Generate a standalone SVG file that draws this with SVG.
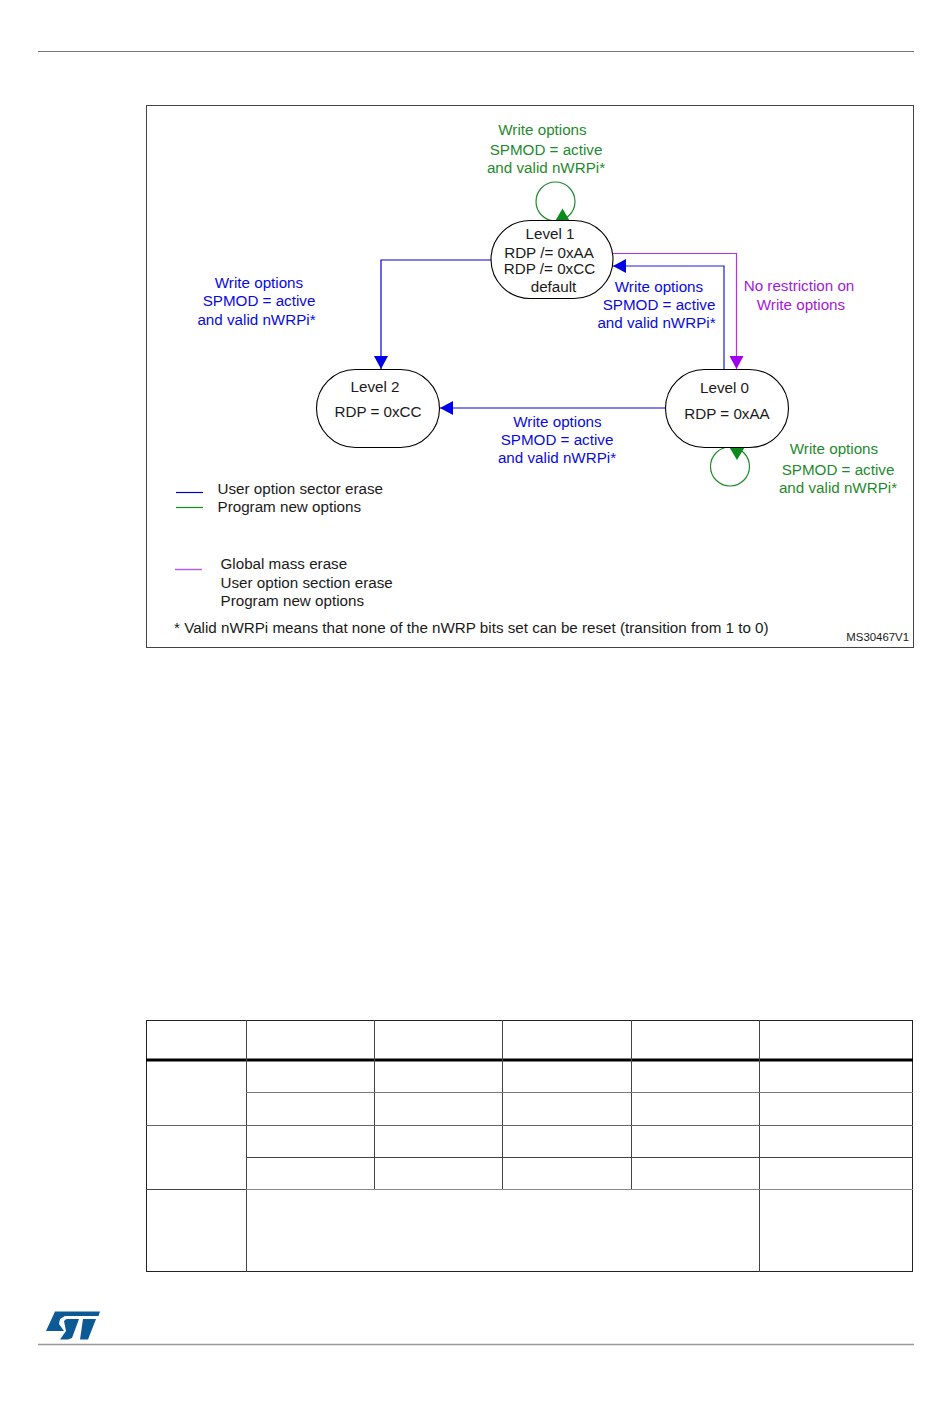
<svg xmlns="http://www.w3.org/2000/svg" width="950" height="1420" viewBox="0 0 950 1420">
<style>
text{font-family:"Liberation Sans",Arial,sans-serif;font-size:15.2px;text-anchor:middle}
.k{fill:#1a1a1a}.b{fill:#0a0ae0}.g{fill:#1f8a2d}.p{fill:#a318e0}
.l{text-anchor:start}
.node{fill:#fff;stroke:#000;stroke-width:1.1}
.c{fill:none;stroke-width:1.2}
.tb line{stroke:#444;stroke-width:1}
</style>
<defs>
<marker id="ab" markerUnits="userSpaceOnUse" markerWidth="14" markerHeight="14" refX="13" refY="7" orient="auto"><path d="M0 0L13 7L0 14Z" fill="#0000e6"/></marker>
<marker id="ap" markerUnits="userSpaceOnUse" markerWidth="14" markerHeight="14" refX="13" refY="7" orient="auto"><path d="M0 0L13 7L0 14Z" fill="#a000f0"/></marker>
</defs>
<line x1="38" y1="51.500" x2="914" y2="51.500" stroke="#777" stroke-width="1"/>
<line x1="38" y1="1344.500" x2="914" y2="1344.500" stroke="#999" stroke-width="1.500"/>
<rect x="146.500" y="105.500" width="767" height="542" fill="#fff" stroke="#444" stroke-width="1"/>
<g id="connectors">
<path class="c" stroke="#0000e6" d="M491 260H381V369" marker-end="url(#ab)"/>
<path class="c" stroke="#b82ee6" d="M613 253.500H736.500V369" marker-end="url(#ap)"/>
<path class="c" stroke="#1a1ae0" d="M724 370V266H613" marker-end="url(#ab)"/>
<path class="c" stroke="#0000e6" d="M666 408H440" marker-end="url(#ab)"/>
<circle class="c" cx="555.500" cy="201.500" r="19.500" stroke="#1f8a2d"/>
<path d="M555.500 220.500L562.500 208.500L569.500 220.500Z" fill="#0d8a1d"/>
<circle class="c" cx="730" cy="466.500" r="19.500" stroke="#1f8a2d"/>
<path d="M729.500 447.500H744.500L737 460Z" fill="#0d8a1d"/>
</g>
<g id="level1"><rect class="node" x="491" y="220.500" width="122" height="78" rx="39" ry="39"/>
<text class="k" x="550" y="239">Level 1</text><text class="k" x="549" y="258">RDP /= 0xAA</text><text class="k" x="549.500" y="274">RDP /= 0xCC</text><text class="k" x="553.500" y="292">default</text></g>
<g id="level2"><rect class="node" x="316.500" y="369.500" width="123" height="78" rx="39" ry="39"/>
<text class="k" x="375" y="392">Level 2</text><text class="k" x="378" y="417">RDP = 0xCC</text></g>
<g id="level0"><rect class="node" x="665.500" y="369.500" width="123" height="78" rx="39" ry="39"/>
<text class="k" x="724.500" y="393">Level 0</text><text class="k" x="727" y="419">RDP = 0xAA</text></g>
<g id="labels">
<text class="g" x="542.500" y="135">Write options</text><text class="g" x="546" y="155">SPMOD = active</text><text class="g" x="546" y="173">and valid nWRPi*</text>
<text class="b" x="259" y="288">Write options</text><text class="b" x="259" y="306">SPMOD = active</text><text class="b" x="256.500" y="325">and valid nWRPi*</text>
<text class="b" x="659" y="292">Write options</text><text class="b" x="659" y="310">SPMOD = active</text><text class="b" x="656.500" y="328">and valid nWRPi*</text>
<text class="p" x="799" y="291">No restriction on</text><text class="p" x="801" y="310">Write options</text>
<text class="b" x="557.500" y="427">Write options</text><text class="b" x="557" y="445">SPMOD = active</text><text class="b" x="557" y="463">and valid nWRPi*</text>
<text class="g" x="834" y="454">Write options</text><text class="g" x="838" y="475">SPMOD = active</text><text class="g" x="838" y="493">and valid nWRPi*</text>
</g>
<g id="legend">
<line x1="176" y1="492.500" x2="203" y2="492.500" stroke="#0000c0" stroke-width="1.200"/>
<line x1="176" y1="507.500" x2="203" y2="507.500" stroke="#128a22" stroke-width="1.200"/>
<line x1="175" y1="569.500" x2="202" y2="569.500" stroke="#b060e8" stroke-width="1.500"/>
<text class="k l" x="217.500" y="494">User option sector erase</text>
<text class="k l" x="217.500" y="512">Program new options</text>
<text class="k l" x="220.500" y="569">Global mass erase</text>
<text class="k l" x="220.500" y="588">User option section erase</text>
<text class="k l" x="220.500" y="606">Program new options</text>
<text class="k l" x="174" y="633">* Valid nWRPi means that none of the nWRP bits set can be reset (transition from 1 to 0)</text>
<text class="k" style="font-size:11.400px;text-anchor:end" x="909" y="641">MS30467V1</text>
</g>
<g class="tb" id="table">
<rect x="146.500" y="1020.500" width="766" height="251" fill="none" stroke="#222"/>
<line x1="146" y1="1060" x2="913" y2="1060" style="stroke:#000;stroke-width:3"/>
<line x1="246.500" y1="1020" x2="246.500" y2="1272"/>
<line x1="374.500" y1="1020" x2="374.500" y2="1190"/>
<line x1="502.500" y1="1020" x2="502.500" y2="1190"/>
<line x1="631.500" y1="1020" x2="631.500" y2="1190"/>
<line x1="759.500" y1="1020" x2="759.500" y2="1272"/>
<line x1="246" y1="1092.500" x2="913" y2="1092.500" style="stroke:#777"/>
<line x1="146" y1="1125.500" x2="913" y2="1125.500" style="stroke:#666"/>
<line x1="246" y1="1157.500" x2="913" y2="1157.500"/>
<line x1="146" y1="1189.500" x2="246" y2="1189.500"/>
<line x1="246" y1="1189.500" x2="913" y2="1189.500" style="stroke:#888;stroke-width:1.200"/>
</g>
<g id="logo" fill="#0b5a96">
<path d="M55 1311.500H100L98.500 1316H65L60 1319L59 1324L64 1331H46Z"/>
<path d="M63 1321L65.500 1319H78L71 1338L67 1339.500H59L65 1331Z" transform="translate(1,0)"/>
<path d="M83 1319H96L88 1339.500H80Z"/>
</g>
</svg>
